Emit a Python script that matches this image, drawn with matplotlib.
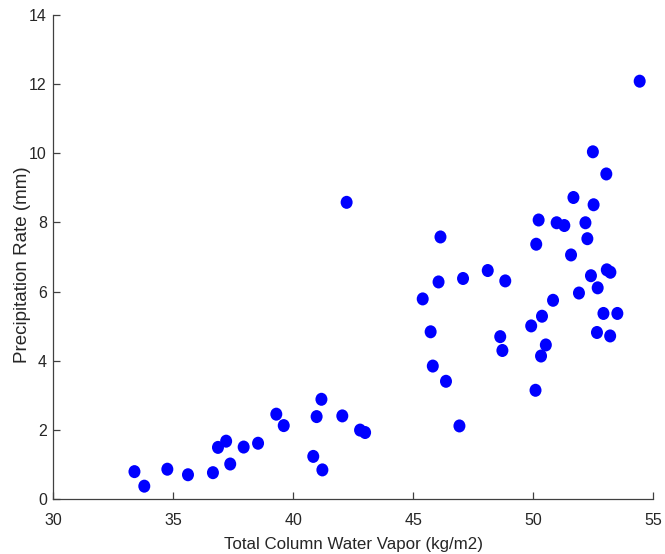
import matplotlib
matplotlib.use("Agg")
import matplotlib.pyplot as plt
from matplotlib.path import Path
from matplotlib.transforms import Affine2D

# total column water vapor (kg/m2)
tcwv = [33.38, 33.79, 34.75, 35.61, 36.65, 36.86, 37.20, 37.37, 37.93, 38.53,
        39.29, 39.60, 40.83, 40.97, 41.17, 41.21, 42.04, 42.78, 42.99, 42.22,
        45.39, 45.72, 45.81, 46.05, 46.13, 46.36, 46.92, 47.07, 48.10, 48.62,
        48.71, 48.83, 49.91, 50.09, 50.12, 50.22, 50.32, 50.36, 50.52, 50.82,
        50.97, 51.29, 51.57, 51.67, 51.90, 52.17, 52.25, 52.40, 52.48, 52.51,
        52.65, 52.68, 52.92, 53.04, 53.06, 53.20, 53.21, 53.50, 54.43]
# precipitation rate (mm)
precip = [0.80, 0.38, 0.87, 0.71, 0.77, 1.50, 1.68, 1.02, 1.51, 1.62,
          2.46, 2.13, 1.24, 2.39, 2.89, 0.85, 2.41, 2.00, 1.93, 8.58,
          5.79, 4.84, 3.85, 6.28, 7.58, 3.41, 2.12, 6.38, 6.61, 4.70,
          4.30, 6.31, 5.01, 3.15, 7.37, 8.07, 4.14, 5.29, 4.46, 5.75,
          7.99, 7.91, 7.06, 8.72, 5.96, 7.99, 7.53, 6.46, 10.04, 8.51,
          4.82, 6.11, 5.37, 9.40, 6.63, 4.72, 6.56, 5.37, 12.08]

plt.rcParams['font.family'] = ['Liberation Sans', 'DejaVu Sans']

fig = plt.figure(figsize=(6.65, 5.54), dpi=100)
ax = fig.add_axes([0.0802, 0.0987, 0.9023, 0.8747])

# dots are a little taller than wide in the reference
dot = Path.unit_circle().transformed(Affine2D().scale(0.92, 1.0))
ax.scatter(tcwv, precip, s=88, color='#0000ff', edgecolors='none', marker=dot)

ax.set_xlim(30, 55)
ax.set_ylim(0, 14)
ax.set_xticks(range(30, 56, 5))
ax.set_yticks(range(0, 15, 2))

ax.spines['top'].set_visible(False)
ax.spines['right'].set_visible(False)
for s in ['left', 'bottom']:
    ax.spines[s].set_color('#404040')
    ax.spines[s].set_linewidth(0.9)
ax.tick_params(direction='in', length=5, width=0.9, color='#404040',
               labelcolor='#262626', labelsize=11.5)
ax.tick_params(axis='x', pad=9.5)
ax.tick_params(axis='y', pad=4.7)

ax.set_xlabel("Total Column Water Vapor (kg/m2)", fontsize=12.2, color='#262626')
ax.set_ylabel("Precipitation Rate (mm)", fontsize=13.5, color='#262626')
ax.xaxis.set_label_coords(0.5, -0.078)
ax.yaxis.set_label_coords(-0.0377, 0.4835)

fig.savefig("out.png", dpi=100)
